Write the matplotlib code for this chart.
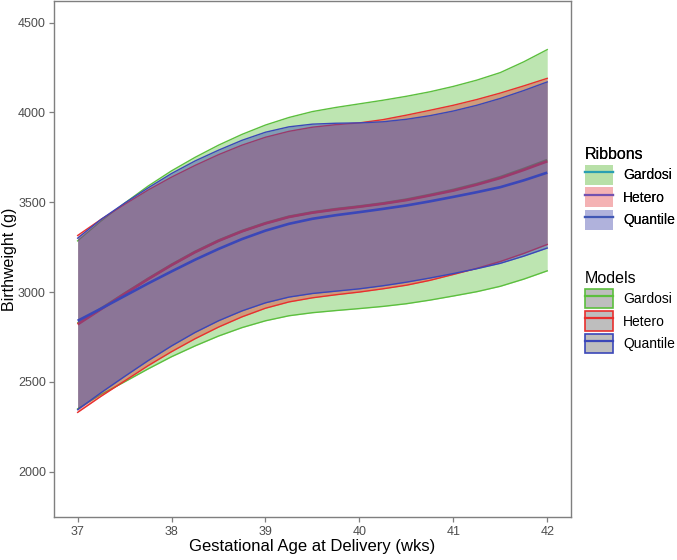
import numpy as np
import matplotlib
matplotlib.use("Agg")
import matplotlib.pyplot as plt
from matplotlib.patches import Patch
from matplotlib.lines import Line2D

plt.rcParams['font.family'] = ['Liberation Sans', 'DejaVu Sans']

# gestational age (weeks)
age = [37, 37.25, 37.5, 37.75, 38, 38.25, 38.5, 38.75, 39, 39.25, 39.5,
       39.75, 40, 40.25, 40.5, 40.75, 41, 41.25, 41.5, 41.75, 42]

# Gardosi model
gardosi_lo = [2350, 2430, 2500, 2572, 2640, 2700, 2755, 2802, 2840, 2868, 2885,
              2897, 2908, 2920, 2935, 2955, 2978, 3002, 3032, 3072, 3118]
gardosi_mid = [2825, 2908, 2992, 3074, 3152, 3224, 3287, 3340, 3384, 3420, 3444,
               3462, 3477, 3494, 3515, 3541, 3569, 3602, 3640, 3686, 3735]
gardosi_hi = [3285, 3395, 3495, 3590, 3675, 3750, 3818, 3878, 3930, 3972, 4005,
              4028, 4048, 4068, 4090, 4115, 4145, 4180, 4222, 4282, 4350]

# Hetero model
hetero_lo = [2330, 2420, 2505, 2590, 2668, 2740, 2805, 2862, 2910, 2945, 2968,
             2985, 3000, 3018, 3038, 3065, 3098, 3132, 3170, 3215, 3265]
hetero_mid = [2820, 2905, 2990, 3072, 3150, 3222, 3285, 3338, 3382, 3418, 3442,
              3460, 3475, 3492, 3512, 3538, 3565, 3598, 3635, 3680, 3728]
hetero_hi = [3315, 3405, 3488, 3568, 3640, 3705, 3765, 3818, 3862, 3895, 3918,
             3932, 3942, 3960, 3985, 4012, 4040, 4072, 4108, 4148, 4190]

# Quantile model
quant_lo = [2345, 2440, 2530, 2618, 2700, 2775, 2840, 2895, 2940, 2972, 2992,
            3005, 3018, 3035, 3055, 3078, 3103, 3130, 3160, 3200, 3245]
quant_mid = [2840, 2908, 2978, 3048, 3115, 3180, 3240, 3295, 3342, 3380, 3408,
             3428, 3445, 3463, 3482, 3505, 3530, 3556, 3584, 3622, 3665]
quant_hi = [3300, 3405, 3495, 3580, 3660, 3730, 3790, 3845, 3890, 3920, 3935,
            3940, 3942, 3948, 3962, 3982, 4008, 4040, 4078, 4122, 4170]

models = ["Gardosi", "Hetero", "Quantile"]
colors = {"Gardosi": "#5CBF3E", "Hetero": "#E8302E", "Quantile": "#3B47B8"}
fill_alpha = {"Gardosi": 0.4, "Hetero": 0.4, "Quantile": 0.45}
ribbon_key_fill = {"Gardosi": "#B8E0A8", "Hetero": "#F4B2B4", "Quantile": "#B0B2DC"}
ribbon_key_lines = {"Gardosi": "#2A9FB2", "Hetero": "#7352B0", "Quantile": "#4057B5"}
data = {
    "Gardosi": (gardosi_lo, gardosi_mid, gardosi_hi),
    "Hetero": (hetero_lo, hetero_mid, hetero_hi),
    "Quantile": (quant_lo, quant_mid, quant_hi),
}

fig = plt.figure(figsize=(6.77, 5.6), dpi=100)
ax = fig.add_axes([0.08, 0.076, 0.763, 0.922])

# each model: ribbon, its outline, then its mean line
z = 1
for m in models:
    lo, mid, hi = data[m]
    ax.fill_between(age, lo, hi, color=colors[m], alpha=fill_alpha[m], lw=0, zorder=z)
    ax.plot(age, lo, color=colors[m], lw=1.0, zorder=z + 0.1)
    ax.plot(age, hi, color=colors[m], lw=1.0, zorder=z + 0.1)
    ax.plot(age, mid, color=colors[m], lw=1.9, zorder=z + 0.2, solid_capstyle='butt')
    z += 1

ax.set_xlim(36.75, 42.25)
ax.set_ylim(1745, 4620)
ax.set_xticks([37, 38, 39, 40, 41, 42])
ax.set_yticks([2000, 2500, 3000, 3500, 4000, 4500])
ax.tick_params(colors="#7F7F7F", labelcolor="#4D4D4D", labelsize=9, length=3.5,
               width=0.9, pad=2.5)
for s in ax.spines.values():
    s.set_color("#7F7F7F")
    s.set_linewidth(1.0)
ax.set_xlabel("Gestational Age at Delivery (wks)", fontsize=12, labelpad=1)
ax.set_ylabel("Birthweight (g)", fontsize=11.5)
ax.yaxis.set_label_coords(-0.071, 0.5)

# legends
rib_handles = [(Patch(facecolor=ribbon_key_fill[m], edgecolor='none'),
                Line2D([], [], color=ribbon_key_lines[m], lw=1.6)) for m in models]
mod_handles = [(Patch(facecolor="#BEBEBE", edgecolor=colors[m], lw=1.2),
                Line2D([], [], color=colors[m], lw=1.6)) for m in models]

common = dict(loc="upper left", frameon=False, fontsize=10, title_fontsize=11.5,
              handlelength=2.0, handleheight=1.8, labelspacing=0.2,
              handletextpad=0.75, alignment='left', borderaxespad=0, borderpad=0)
leg1 = fig.legend(rib_handles, models, title="Ribbons",
                  bbox_to_anchor=(0.864, 0.737), **common)
leg2 = fig.legend(mod_handles, models, title="Models",
                  bbox_to_anchor=(0.864, 0.516), **common)
fig.add_artist(leg1)

fig.savefig("out.png", dpi=100)
